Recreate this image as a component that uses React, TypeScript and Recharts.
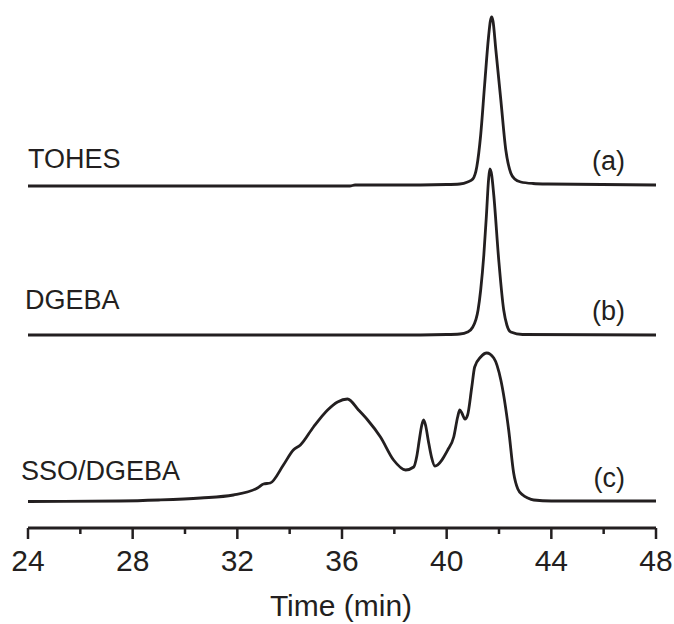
import React from 'react'
import { LineChart, Line, XAxis, YAxis } from 'recharts'

const INK = '#231f20'
const FONT = '"Liberation Sans", Arial, Helvetica, sans-serif'

// retention time (min) and detector signal for each trace
const tohesTime = [24, 36.3, 36.5, 38, 40, 40.5, 40.8, 41.0, 41.15, 41.3, 41.45, 41.6, 41.67, 41.72, 41.77, 41.88, 42.07, 42.26, 42.45, 42.6, 42.83, 43.3, 43.87, 48]
const tohesSignal = [-1, -1, 0, 0, 0.5, 1, 3, 6, 18, 50, 100, 148, 164, 168, 164, 135, 85, 35, 12, 6, 3, 1.5, 1, 0]

const dgebaTime = [24, 38, 40, 40.5, 40.8, 41.0, 41.2, 41.3, 41.42, 41.52, 41.6, 41.65, 41.72, 41.8, 41.99, 42.18, 42.3, 42.45, 42.9, 48]
const dgebaSignal = [0, 0, 0.5, 1, 3, 8, 25, 45, 80, 120, 155, 166, 160, 140, 75, 25, 10, 3, 0.5, 0]

const ssoTime = [24, 27.5, 29, 30.6, 31.85, 32.77, 33.0, 33.26, 33.76, 34.14, 34.41, 34.91, 35.45, 35.83, 36.21, 36.63, 36.98, 37.47, 37.97, 38.43, 38.74, 38.86, 38.96, 39.05, 39.12, 39.2, 39.3, 39.42, 39.55, 40.04, 40.27, 40.42, 40.5, 40.58, 40.7, 40.8, 40.96, 41.07, 41.3, 41.53, 41.8, 42.07, 42.37, 42.56, 42.72, 42.91, 43.1, 43.33, 44, 48]
const ssoSignal = [-0.5, 0, 1, 3, 6, 13, 17, 18, 36, 51, 56, 74, 91, 99, 102, 91, 81, 64, 41, 31, 34, 45, 62, 76, 81, 75, 60, 44, 35, 51, 64, 84, 91, 88, 82, 86, 114, 134, 144, 148, 143, 121, 71, 28, 12, 6, 3, 1, 0, 0]

const timeTicks = [24, 26, 28, 30, 32, 34, 36, 38, 40, 42, 44, 46, 48]

// vertical stacking offset of each trace
const offsets = { tohes: 343, dgeba: 193, sso: 27 }

const build = (t: number[], s: number[], off: number) =>
  t.map((time, i) => ({ time, value: s[i] + off }))

const tohesData = build(tohesTime, tohesSignal, offsets.tohes)
const dgebaData = build(dgebaTime, dgebaSignal, offsets.dgeba)
const ssoData = build(ssoTime, ssoSignal, offsets.sso)

function TimeTick(props: any) {
  const { x, y, payload } = props
  const major = payload.value % 4 === 0
  return (
    <g>
      <line x1={x} x2={x} y1={y} y2={y + (major ? 11 : 6)} stroke={INK} strokeWidth={2.5} />
      {major && (
        <text x={x} y={y + 43} textAnchor="middle" fontFamily={FONT} fontSize={30} fill={INK}>
          {payload.value}
        </text>
      )}
    </g>
  )
}

const textStyle = { fontFamily: FONT, fontSize: 27, fill: INK }

export default function App() {
  return (
    <div style={{ position: 'absolute', left: 0, top: 0, width: 674, height: 624, background: '#fff' }}>
      <LineChart width={674} height={624} margin={{ top: 6, right: 18, bottom: 36, left: 28 }}>
        <XAxis
          type="number"
          dataKey="time"
          domain={[24, 48]}
          ticks={timeTicks}
          interval={0}
          allowDataOverflow
          height={60}
          tickSize={0}
          tickMargin={0}
          tickLine={false}
          axisLine={{ stroke: INK, strokeWidth: 2.8 }}
          tick={<TimeTick />}
        />
        <YAxis hide type="number" domain={[0, 522]} allowDataOverflow />
        <Line data={tohesData} dataKey="value" type="monotone" stroke={INK} strokeWidth={2.8} dot={false} isAnimationActive={false} />
        <Line data={dgebaData} dataKey="value" type="monotone" stroke={INK} strokeWidth={2.8} dot={false} isAnimationActive={false} />
        <Line data={ssoData} dataKey="value" type="monotone" stroke={INK} strokeWidth={2.8} dot={false} isAnimationActive={false} />
      </LineChart>
      <svg width={674} height={624} style={{ position: 'absolute', left: 0, top: 0, pointerEvents: 'none' }}>
        <text x={28} y={168} {...textStyle}>TOHES</text>
        <text x={25} y={309} {...textStyle}>DGEBA</text>
        <text x={21} y={480} {...textStyle}>SSO/DGEBA</text>
        <text x={625} y={170} textAnchor="end" {...textStyle}>(a)</text>
        <text x={625} y={320} textAnchor="end" {...textStyle}>(b)</text>
        <text x={625} y={487} textAnchor="end" {...textStyle}>(c)</text>
        <text x={341} y={616} textAnchor="middle" fontFamily={FONT} fontSize={30} fill={INK}>Time (min)</text>
      </svg>
    </div>
  )
}
